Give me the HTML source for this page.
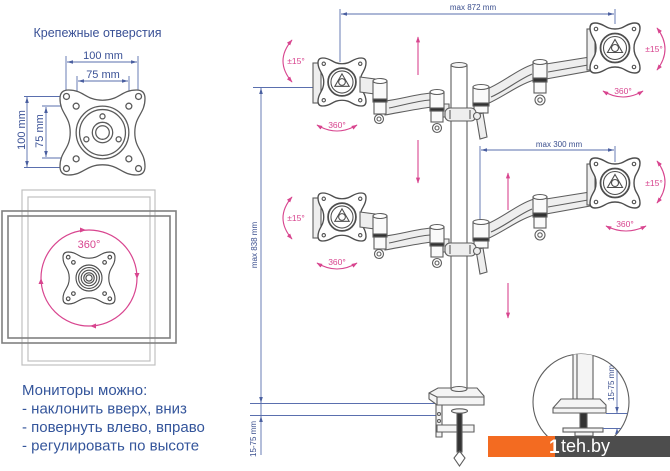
<!DOCTYPE html>
<html><head><meta charset="utf-8"><style>
html,body{margin:0;padding:0;background:#fff;width:670px;height:471px;overflow:hidden}
svg{display:block}
text{font-family:"Liberation Sans","DejaVu Sans",sans-serif}
</style></head><body>
<svg xmlns="http://www.w3.org/2000/svg" xmlns:xlink="http://www.w3.org/1999/xlink" width="670" height="471" viewBox="0 0 670 471">
<defs>
<marker id="ab" viewBox="0 0 10 10" refX="10" refY="5" markerWidth="6" markerHeight="6" markerUnits="userSpaceOnUse" orient="auto-start-reverse"><path d="M0,2 L10,5 L0,8Z" fill="#4a5fa0"/></marker>
<marker id="ap" viewBox="0 0 10 10" refX="9" refY="5" markerWidth="6" markerHeight="6" markerUnits="userSpaceOnUse" orient="auto-start-reverse"><path d="M0,1.5 L10,5 L0,8.5Z" fill="#d8458f"/></marker>
<path id="pl" d="M-40,-50 C-22,-50 -20,-38 0,-38 C20,-38 22,-50 40,-50 Q50,-50 50,-40 C50,-22 38,-20 38,0 C38,20 50,22 50,40 Q50,50 40,50 C22,50 20,38 0,38 C-20,38 -22,50 -40,50 Q-50,50 -50,40 C-50,22 -38,20 -38,0 C-38,-20 -50,-22 -50,-40 Q-50,-50 -40,-50Z"/>
<g id="mp">
<use href="#pl" xlink:href="#pl" fill="#fff" stroke="#4e4e4e" stroke-width="2.8"/>
<g fill="none" stroke="#4e4e4e" stroke-width="2.2">
<circle cx="-38" cy="-38" r="3.5"/><circle cx="38" cy="-38" r="3.5"/><circle cx="-38" cy="38" r="3.5"/><circle cx="38" cy="38" r="3.5"/>
<circle r="29" stroke-width="3.6"/><circle r="23"/>
<path d="M0,-17 L15,9 L-15,9Z"/><circle r="7"/>
</g>
</g>
<g id="arms" stroke="#5e5e5e" stroke-width="1.1" fill="#eeeeee">
 <rect x="313" y="63" width="8" height="40"/>
 <use href="#mp" xlink:href="#mp" transform="translate(342,82) scale(0.48)"/>
 <path d="M360,77 L375,79 L375,94 L360,92Z"/>
 <path d="M385,101 C402,99 416,94 432,93 L432,107 C416,109 402,112 385,115Z"/>
 <path d="M389,108 C404,105 417,101 430,100" fill="none"/>
 <circle cx="379" cy="119" r="4.5" fill="#fff"/><circle cx="379" cy="119" r="2" fill="none"/>
 <rect x="374" y="102" width="12" height="12" fill="#fafafa"/>
 <rect x="373" y="81" width="14" height="19" fill="#fafafa"/><ellipse cx="380" cy="81" rx="7" ry="2.5" fill="#fff"/>
 <rect x="373" y="99" width="14" height="3" fill="#333"/>
 <path d="M443,104 L449,104 L449,117 L443,117Z"/>
 <circle cx="437" cy="128" r="4.5" fill="#fff"/><circle cx="437" cy="128" r="2" fill="none"/>
 <rect x="431" y="111" width="12" height="11" fill="#fafafa"/>
 <rect x="430" y="92" width="14" height="17" fill="#fafafa"/><ellipse cx="437" cy="92" rx="7" ry="2.5" fill="#fff"/>
 <rect x="430" y="108" width="14" height="3" fill="#333"/>
 <path d="M487,89 C502,83 518,69 534,64 L534,80 C518,85 503,97 487,104Z"/>
 <path d="M491,97 C505,91 518,80 532,74" fill="none"/>
 <path d="M546,64 L590,57 L590,71 L546,79Z"/>
 <path d="M548,72 L588,65" fill="none"/>
 <rect x="587" y="29" width="8" height="41"/>
 <use href="#mp" xlink:href="#mp" transform="translate(615,48) scale(0.5)"/>
 <circle cx="540" cy="100" r="5" fill="#fff"/><circle cx="540" cy="100" r="2.2" fill="none"/>
 <rect x="534" y="82" width="12" height="11" fill="#fafafa"/>
 <rect x="533" y="62" width="14" height="17" fill="#fafafa"/><ellipse cx="540" cy="62" rx="7" ry="2.5" fill="#fff"/>
 <rect x="533" y="78" width="14" height="4" fill="#333"/>
 <rect x="474" y="105" width="14" height="8" fill="#fafafa"/>
 <rect x="473" y="87" width="16" height="17" fill="#fafafa"/><ellipse cx="481" cy="87" rx="8" ry="2.5" fill="#fff"/>
 <rect x="473" y="103" width="16" height="3" fill="#333"/>
 <rect x="445" y="108" width="31" height="13" rx="5"/>
 <path d="M450,110 L450,119 M470,110 L470,119" fill="none"/>
 <path d="M476,115 L483,113 L487,137 L480,139Z"/>
 <circle cx="477" cy="116" r="3.5"/>
</g>
<clipPath id="cc"><circle cx="581" cy="402" r="48"/></clipPath>
</defs>

<rect width="670" height="471" fill="#fff"/>

<!-- Left: mounting holes -->
<text x="97.5" y="37" font-size="12.5" fill="#3a5196" text-anchor="middle">Крепежные отверстия</text>
<g stroke="#5a6fae" stroke-width="0.9" fill="none">
 <path d="M66,56 V96 M138,56 V96 M77,76 V105 M129,76 V105 M24,96.5 H62 M24,167.5 H62 M42,106 H76 M42,158 H76"/>
 <path d="M67,62 H137" marker-start="url(#ab)" marker-end="url(#ab)"/>
 <path d="M78,81 H128" marker-start="url(#ab)" marker-end="url(#ab)"/>
 <path d="M27,97 V167" marker-start="url(#ab)" marker-end="url(#ab)"/>
 <path d="M46,107 V157" marker-start="url(#ab)" marker-end="url(#ab)"/>
</g>
<g fill="#3a5196" font-size="11" text-anchor="middle">
 <text x="103" y="59">100 mm</text>
 <text x="103" y="78">75 mm</text>
 <text transform="translate(25,130) rotate(-90)">100 mm</text>
 <text transform="translate(43,131) rotate(-90)">75 mm</text>
</g>
<g transform="translate(102.5,132.5) scale(0.85)" fill="none" stroke="#5a5a5a" stroke-width="1.5">
 <use href="#pl" xlink:href="#pl" fill="#fff"/>
 <circle cx="-42.4" cy="-42.4" r="3.5"/><circle cx="42.4" cy="-42.4" r="3.5"/><circle cx="-42.4" cy="42.4" r="3.5"/><circle cx="42.4" cy="42.4" r="3.5"/>
 <circle cx="-31" cy="-31" r="3.5"/><circle cx="31" cy="-31" r="3.5"/><circle cx="-31" cy="31" r="3.5"/><circle cx="31" cy="31" r="3.5"/>
 <circle r="31"/><circle r="27"/>
 <circle r="12"/><circle r="8"/>
 <circle cx="0" cy="-19" r="3"/><circle cx="-19" cy="8" r="3"/><circle cx="19" cy="8" r="3"/>
</g>

<!-- monitor outlines -->
<g fill="none" stroke="#c0c0c0" stroke-width="1.2">
 <rect x="22" y="190" width="133" height="175"/>
 <rect x="28" y="197" width="122" height="164"/>
</g>
<g fill="none" stroke="#808080" stroke-width="1.6">
 <rect x="2" y="211" width="174" height="132"/>
 <rect x="8" y="216" width="162" height="122"/>
</g>
<circle cx="89" cy="278" r="48" fill="none" stroke="#d8458f" stroke-width="1.2"/>
<g fill="#d8458f">
 <path d="M80,227.5 L86,230 L80,232.5Z"/>
 <path d="M134.5,273 L137,279 L139.5,273Z"/>
 <path d="M96,323.5 L90,326 L96,328.5Z"/>
 <path d="M38.5,284 L41,278 L43.5,284Z"/>
</g>
<text x="89" y="248" font-size="11" fill="#d8458f" text-anchor="middle">360°</text>
<g transform="translate(89,278) scale(0.52)" fill="none" stroke="#4e4e4e" stroke-width="2.2">
 <use href="#pl" xlink:href="#pl" fill="#fff"/>
 <circle cx="-40" cy="-40" r="3.5"/><circle cx="40" cy="-40" r="3.5"/><circle cx="-40" cy="40" r="3.5"/><circle cx="40" cy="40" r="3.5"/>
 <circle cx="-30" cy="-30" r="3.5"/><circle cx="30" cy="-30" r="3.5"/><circle cx="-30" cy="30" r="3.5"/><circle cx="30" cy="30" r="3.5"/>
 <circle r="25"/><circle r="20"/><circle r="15"/><circle r="10"/><circle r="6"/>
</g>

<!-- bottom text -->
<g fill="#34559b" font-size="15">
 <text x="22" y="395">Мониторы можно:</text>
 <text x="22" y="413.5">- наклонить вверх, вниз</text>
 <text x="22" y="432">- повернуть влево, вправо</text>
 <text x="22" y="450.5">- регулировать по высоте</text>
</g>

<!-- right dims -->
<g stroke="#5a6fae" stroke-width="0.9" fill="none">
 <path d="M340,9 V62 M615,9 V24 M253,87.5 H314 M480,146 V222 M615,146 V162 M250,403.5 H436 M250,415.5 H438 M261,403 V416"/>
 <path d="M341,14 H614" marker-start="url(#ab)" marker-end="url(#ab)"/>
 <path d="M481,150 H614" marker-start="url(#ab)" marker-end="url(#ab)"/>
 <path d="M261,88 V403" marker-start="url(#ab)" marker-end="url(#ab)"/>
 <path d="M261,455 V416" marker-end="url(#ab)"/>
</g>
<g fill="#3b4f8e" font-size="8" text-anchor="middle">
 <text x="473" y="10">max 872 mm</text>
 <text x="559" y="147">max 300 mm</text>
 <text transform="translate(257,245) rotate(-90)">max 838 mm</text>
 <text transform="translate(256,439) rotate(-90)">15-75 mm</text>
</g>

<!-- pole -->
<rect x="451" y="65" width="16" height="326" fill="#fff" stroke="#5e5e5e" stroke-width="1.1"/>
<ellipse cx="459" cy="65" rx="8" ry="2.5" fill="#f4f4f4" stroke="#5e5e5e" stroke-width="1.1"/>

<use href="#arms" xlink:href="#arms"/>
<use href="#arms" xlink:href="#arms" y="135"/>

<!-- pink arrows -->
<g stroke="#d8458f" stroke-width="1.1" fill="none">
 <path d="M418,75 V37" marker-end="url(#ap)"/>
 <path d="M418,140 V183" marker-end="url(#ap)"/>
 <path d="M508,210 V173" marker-end="url(#ap)"/>
 <path d="M508,283 V318" marker-end="url(#ap)"/>
 <path d="M292,40 Q274,61 292,82" marker-start="url(#ap)" marker-end="url(#ap)"/>
 <path d="M657,28 Q673,49 657,70" marker-start="url(#ap)" marker-end="url(#ap)"/>
 <path d="M292,197 Q274,218 292,239" marker-start="url(#ap)" marker-end="url(#ap)"/>
 <path d="M657,161 Q673,182 657,203" marker-start="url(#ap)" marker-end="url(#ap)"/>
 <path d="M317,125 Q337,137 357,125" marker-start="url(#ap)" marker-end="url(#ap)"/>
 <path d="M603,91 Q623,103 643,91" marker-start="url(#ap)" marker-end="url(#ap)"/>
 <path d="M317,263 Q337,275 357,263" marker-start="url(#ap)" marker-end="url(#ap)"/>
 <path d="M606,226 Q626,236 646,226" marker-start="url(#ap)" marker-end="url(#ap)"/>
</g>
<g fill="#d8458f" font-size="8.5" text-anchor="middle" stroke="#fff" stroke-width="2" paint-order="stroke">
 <text x="296" y="64">±15°</text>
 <text x="654" y="52">±15°</text>
 <text x="296" y="221">±15°</text>
 <text x="654" y="186">±15°</text>
 <text x="337" y="128">360°</text>
 <text x="623" y="94">360°</text>
 <text x="337" y="265">360°</text>
 <text x="625" y="227">360°</text>
</g>

<!-- clamp -->
<g stroke="#5e5e5e" stroke-width="1.1" fill="#f4f4f4">
 <path d="M436,404 L436,437 L442,437 L442,404Z"/>
 <path d="M437,425 L474,425 L474,432 L437,432Z"/>
 <rect x="457" y="410" width="5" height="42" fill="#333"/>
 <ellipse cx="459.5" cy="411" rx="8" ry="2.2"/>
 <path d="M459.5,451 L465,458 L459.5,466 L454,458Z" fill="none"/>
 <path d="M429,393 L438,388 L477,388 L484,396 L484,405 L437,405 L429,399Z"/>
 <path d="M437,397 L484,397 M437,397 L429,393 M437,397 L437,405" fill="none"/>
 <ellipse cx="459" cy="389" rx="8" ry="2.5"/>
 <circle cx="439" cy="414" r="1.5"/><circle cx="439" cy="421" r="1.5"/>
</g>

<!-- detail circle -->
<circle cx="581" cy="402" r="48" fill="#fff" stroke="#5e5e5e" stroke-width="1.1"/>
<g clip-path="url(#cc)">
 <g stroke="#5e5e5e" fill="#f4f4f4" stroke-width="1.1">
  <rect x="573" y="340" width="20" height="59"/>
  <path d="M577,340 V399" fill="none"/>
  <rect x="580" y="412" width="7" height="17" fill="#333"/>
  <path d="M553,408 L561,399 L600,399 L606,405 L606,413 L553,413Z"/>
  <path d="M553,408 L606,408" fill="none"/>
  <rect x="563" y="428" width="40" height="4"/>
  <rect x="575" y="432" width="18" height="4"/>
 </g>
 <g stroke="#5a6fae" fill="none" stroke-width="0.9">
  <path d="M606,413.5 H630 M603,428.5 H630"/>
  <path d="M617,362 V413" marker-end="url(#ab)"/>
  <path d="M617,445 V428" marker-end="url(#ab)"/>
 </g>
 <text transform="translate(614,383) rotate(-90)" font-size="8" fill="#3b4f8e" text-anchor="middle">15-75 mm</text>
</g>

<!-- banner -->
<rect x="488" y="436" width="67" height="21" fill="#f36b21"/>
<rect x="555" y="436" width="115" height="21" fill="#4d4d4d"/>
<text x="549" y="453" font-size="19" font-weight="bold" fill="#fff">1</text>
<text x="561" y="452" font-size="18" fill="#fff">teh.by</text>
</svg>
</body></html>
